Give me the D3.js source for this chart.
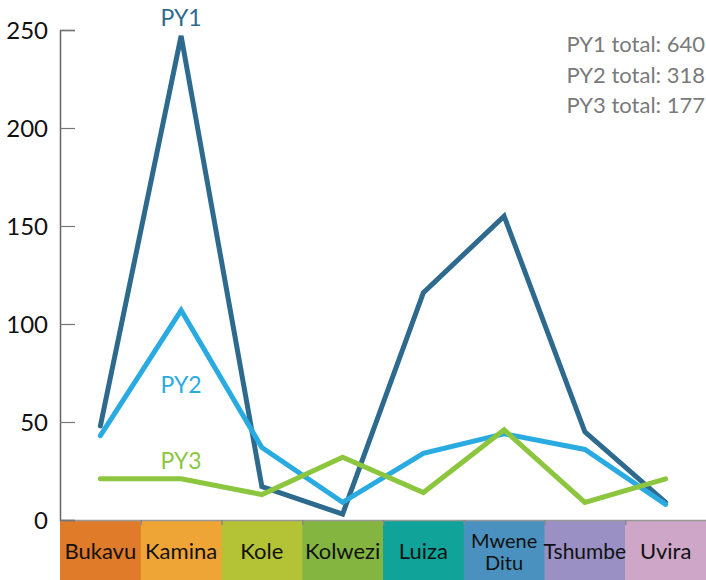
<!DOCTYPE html>
<html>
<head>
<meta charset="utf-8">
<script src="https://cdn.jsdelivr.net/npm/d3@7"></script>
<style>
  body { margin: 0; background: #fff; }
  svg { display: block; font-family: "Lato", "DejaVu Sans", sans-serif; }
</style>
</head>
<body>
<div id="chart"></div>
<script>
const categories = ['Bukavu', 'Kamina', 'Kole', 'Kolwezi', 'Luiza', 'Mwene Ditu', 'Tshumbe', 'Uvira'];
const bandColors = ['#e07b2a', '#eea536', '#b4c235', '#84b541', '#0fa39a', '#4a91bf', '#9a90c4', '#cea6c8'];
const seriesNames = ['PY1', 'PY2', 'PY3'];
const py1 = [48, 247, 17, 3, 116, 155, 45, 9];
const py2 = [43, 107, 37, 9, 34, 44, 36, 8];
const py3 = [21, 21, 13, 32, 14, 46, 9, 21];
const lineColors = ['#2d6a8d', '#29abe2', '#8cc63f'];
const yTicks = [0, 50, 100, 150, 200, 250];

const width = 706, height = 580;
const margin = {top: 30, right: 0, bottom: 60, left: 60};
const svg = d3.select('#chart').append('svg').attr('width', width).attr('height', height);

const x = d3.scaleBand().domain(categories).range([margin.left, width - margin.right]);
const y = d3.scaleLinear().domain([0, 250]).range([height - margin.bottom, margin.top]);

// category bands along the bottom
const bands = svg.append('g');
bands.selectAll('rect').data(categories).enter().append('rect')
  .attr('x', d => x(d)).attr('y', y(0))
  .attr('width', x.bandwidth() + 0.5).attr('height', margin.bottom)
  .attr('fill', (d, i) => bandColors[i]);

bands.selectAll('text').data(categories).enter().append('text')
  .attr('x', d => x(d) + x.bandwidth() / 2)
  .attr('y', y(0) + 39)
  .attr('text-anchor', 'middle')
  .attr('font-size', d => d === 'Tshumbe' ? 21 : 22)
  .attr('fill', '#111')
  .each(function (d) {
    const parts = d.split(' ');
    const t = d3.select(this);
    if (parts.length > 1) {
      t.attr('font-size', 20);
      parts.forEach((p, k) => t.append('tspan').attr('x', x(d) + x.bandwidth() / 2)
        .attr('y', y(0) + 28 + k * 22).text(p));
    } else {
      t.text(d);
    }
  });

// x axis line with small ticks at band edges
svg.append('line').attr('x1', margin.left).attr('x2', width).attr('y1', y(0) + 0.5).attr('y2', y(0) + 0.5)
  .attr('stroke', '#999').attr('stroke-width', 1.5);
svg.append('g').selectAll('line').data(categories.slice(1)).enter().append('line')
  .attr('x1', d => x(d) + 0.5).attr('x2', d => x(d) + 0.5)
  .attr('y1', y(0)).attr('y2', y(0) + 5)
  .attr('stroke', '#888').attr('stroke-width', 1.5);

// y axis
const yAxis = svg.append('g').attr('transform', `translate(${margin.left},0)`)
  .call(d3.axisRight(y).tickValues(yTicks).tickSize(15).tickFormat(''));
yAxis.select('.domain').attr('stroke', '#666').attr('stroke-width', 1.5);
yAxis.selectAll('.tick line').attr('stroke', '#777').attr('stroke-width', 1.2);
svg.append('g').selectAll('text').data(yTicks).enter().append('text')
  .attr('x', 48).attr('y', d => y(d) + 9)
  .attr('text-anchor', 'end').attr('font-size', 24).attr('fill', '#111')
  .text(d => d);

// lines
const allSeries = [py1, py2, py3];
const line = d3.line().x((d, i) => x(categories[i]) + x.bandwidth() / 2).y(d => y(d));
svg.append('g').selectAll('path').data(allSeries).enter().append('path')
  .attr('d', line)
  .attr('fill', 'none')
  .attr('stroke', (d, i) => lineColors[i])
  .attr('stroke-width', 5)
  .attr('stroke-linejoin', 'miter')
  .attr('stroke-linecap', 'round');

// series labels
const labelY = [18, 385, 461];
svg.append('g').selectAll('text').data(seriesNames).enter().append('text')
  .attr('x', x('Kamina') + x.bandwidth() / 2)
  .attr('y', (d, i) => labelY[i] + 8)
  .attr('text-anchor', 'middle').attr('font-size', 23)
  .attr('fill', (d, i) => lineColors[i])
  .text(d => d);

// totals
svg.append('g').selectAll('text').data(seriesNames).enter().append('text')
  .attr('x', 705).attr('y', (d, i) => 52 + i * 30.5)
  .attr('text-anchor', 'end').attr('font-size', 22).attr('fill', '#7a7a7a')
  .text((d, i) => `${d} total: ${d3.sum(allSeries[i])}`);
</script>
</body>
</html>
